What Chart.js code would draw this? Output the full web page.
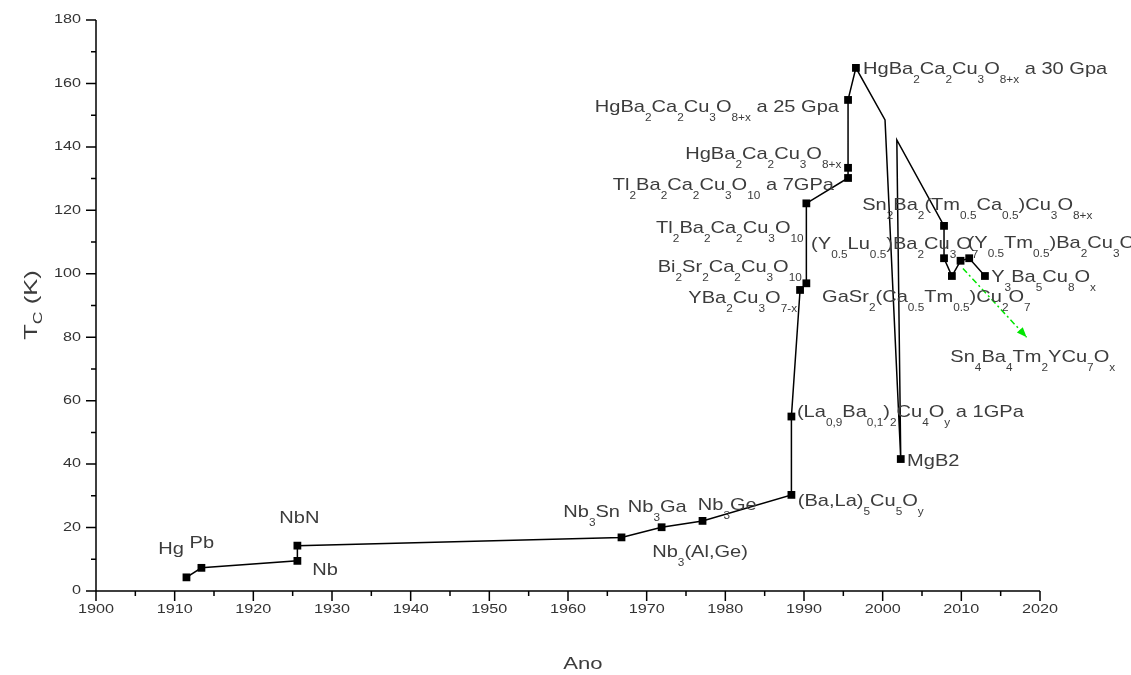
<!DOCTYPE html>
<html>
<head>
<meta charset="utf-8">
<script src="https://cdn.jsdelivr.net/npm/chart.js@4.4.1/dist/chart.umd.min.js"></script>
<style>
    html, body { margin: 0; padding: 0; background: #fff; }
    #wrap { width: 1131px; height: 675px; }
</style>
</head>
<body>
<div id="wrap"><canvas id="chart" width="1131" height="675"></canvas></div>
<script>
// main curve: year of discovery and Tc (K)
const years = [1911.5, 1913.4, 1925.6, 1925.6, 1966.8, 1971.9, 1977.1, 1988.4, 1988.4, 1989.5,
               1990.3, 1990.3, 1995.6, 1995.6, 1995.6, 1996.6, 2000.3, 2002.3, 2001.8, 2007.8,
               2007.8, 2008.8, 2009.9, 2011.0, 2013.0]
const tc = [4.3, 7.3, 9.5, 14.3, 16.9, 20.1, 22.1, 30.3, 55, 94.9,
            97, 122.2, 130.2, 133.4, 154.8, 164.9, 148.5, 41.6, 142.2, 115.1,
            104.9, 99.3, 104.1, 104.9, 99.3]
// 1 = square marker, 0 = plain bend of the line
const marked = [1, 1, 1, 1, 1, 1, 1, 1, 1, 1,
                1, 1, 1, 1, 1, 1, 0, 1, 0, 1,
                1, 1, 1, 1, 1]

// green dash-dot arrow towards Sn4Ba4Tm2YCu7Ox
const arrowYears = [2010.2, 2018.3]
const arrowTc = [101.7, 80.0]

// axis ticks
const xMajor = [1900, 1910, 1920, 1930, 1940, 1950, 1960, 1970, 1980, 1990, 2000, 2010, 2020]
const yMajor = [0, 20, 40, 60, 80, 100, 120, 140, 160, 180]

// compound labels: text (_{..} = subscript), left x in years, baseline in K
const labelText = [
    'Hg', 'Pb', 'NbN', 'Nb', 'Nb_{3}Sn', 'Nb_{3}Ga', 'Nb_{3}Ge', 'Nb_{3}(Al,Ge)',
    '(Ba,La)_{5}Cu_{5}O_{y}', '(La_{0,9}Ba_{0,1})_{2}Cu_{4}O_{y} a 1GPa', 'MgB2',
    'YBa_{2}Cu_{3}O_{7-x}', 'Bi_{2}Sr_{2}Ca_{2}Cu_{3}O_{10}', 'Tl_{2}Ba_{2}Ca_{2}Cu_{3}O_{10}',
    '(Y_{0.5}Lu_{0.5})Ba_{2}Cu_{3}O_{7}', '(Y_{0.5}Tm_{0.5})Ba_{2}Cu_{3}O_{7}',
    'Sn_{2}Ba_{2}(Tm_{0.5}Ca_{0.5})Cu_{3}O_{8+x}', 'Y_{3}Ba_{5}Cu_{8}O_{x}',
    'GaSr_{2}(Ca_{0.5}Tm_{0.5})Cu_{2}O_{7}', 'Sn_{4}Ba_{4}Tm_{2}YCu_{7}O_{x}',
    'HgBa_{2}Ca_{2}Cu_{3}O_{8+x} a 25 Gpa', 'HgBa_{2}Ca_{2}Cu_{3}O_{8+x}',
    'Tl_{2}Ba_{2}Ca_{2}Cu_{3}O_{10} a 7GPa', 'HgBa_{2}Ca_{2}Cu_{3}O_{8+x} a 30 Gpa'
]
const labelYear = [1907.9, 1911.9, 1923.3, 1927.5, 1959.4, 1967.6, 1976.5, 1970.7,
                   1989.2, 1989.1, 2003.1,
                   1975.3, 1971.4, 1971.2,
                   1990.9, 2010.8,
                   1997.4, 2013.8,
                   1992.3, 2008.6,
                   1963.4, 1974.9,
                   1965.7, 1997.5]
const labelTc = [11.7, 13.7, 21.3, 5.0, 23.4, 25.0, 25.5, 10.7,
                 26.8, 54.9, 39.4,
                 90.8, 100.6, 112.9,
                 107.8, 108.2,
                 120.1, 97.4,
                 91.1, 72.2,
                 151.0, 136.2,
                 126.4, 163.0]

const FONT = '"Liberation Sans", Arial, sans-serif'
const TEXT_GREY = '#3c3c3c'

function splitRich(str) {
    let parts = []
    let re = /_\{([^}]*)\}/g
    let last = 0
    let m
    while ((m = re.exec(str)) !== null) {
        if (m.index > last) parts.push({ t: str.slice(last, m.index), sub: false })
        parts.push({ t: m[1], sub: true })
        last = re.lastIndex
    }
    if (last < str.length) parts.push({ t: str.slice(last), sub: false })
    return parts
}

function richWidth(ctx, parts, size, subSize) {
    let w = 0
    for (let p of parts) {
        ctx.font = (p.sub ? subSize : size) + 'px ' + FONT
        w += ctx.measureText(p.t).width
    }
    return w
}

function drawRich(ctx, str, size, subSize, drop) {
    let parts = splitRich(str)
    let cx = 0
    for (let p of parts) {
        ctx.font = (p.sub ? subSize : size) + 'px ' + FONT
        ctx.fillText(p.t, cx, p.sub ? drop : 0)
        cx += ctx.measureText(p.t).width
    }
}

const decorations = {
    id: 'decorations',
    afterDraw(chart) {
        const ctx = chart.ctx
        const xs = chart.scales.x
        const ys = chart.scales.y
        const x0 = xs.getPixelForValue(1900)
        const x1 = xs.getPixelForValue(2020)
        const y0 = ys.getPixelForValue(0)
        const y1 = ys.getPixelForValue(180)

        // axes
        ctx.save()
        ctx.strokeStyle = '#000'
        ctx.lineWidth = 1.5
        ctx.beginPath()
        ctx.moveTo(x0, y1)
        ctx.lineTo(x0, y0)
        ctx.lineTo(x1, y0)
        for (let v = 1900; v <= 2020; v += 5) {
            let p = xs.getPixelForValue(v)
            ctx.moveTo(p, y0)
            ctx.lineTo(p, y0 + (v % 10 === 0 ? 10 : 5))
        }
        for (let v = 0; v <= 180; v += 10) {
            let p = ys.getPixelForValue(v)
            ctx.moveTo(x0, p)
            ctx.lineTo(x0 - (v % 20 === 0 ? 10 : 5), p)
        }
        ctx.stroke()

        // tick labels
        ctx.fillStyle = '#333'
        ctx.font = '12px ' + FONT
        ctx.textBaseline = 'middle'
        for (let v of xMajor) {
            let p = xs.getPixelForValue(v)
            ctx.save()
            ctx.translate(p, y0 + 19)
            ctx.scale(1.35, 1)
            ctx.textAlign = 'center'
            ctx.fillText(String(v), 0, 0)
            ctx.restore()
        }
        for (let v of yMajor) {
            let p = ys.getPixelForValue(v)
            ctx.save()
            ctx.translate(x0 - 15, p)
            ctx.scale(1.35, 1)
            ctx.textAlign = 'right'
            ctx.fillText(String(v), 0, 0)
            ctx.restore()
        }

        // axis titles
        ctx.fillStyle = TEXT_GREY
        ctx.textBaseline = 'alphabetic'
        ctx.textAlign = 'left'
        ctx.save()
        ctx.font = '17px ' + FONT
        let w = ctx.measureText('Ano').width * 1.3
        ctx.translate((x0 + x1) / 2 - w / 2 + 15, 669)
        ctx.scale(1.3, 1)
        ctx.fillText('Ano', 0, 0)
        ctx.restore()

        ctx.save()
        let tparts = splitRich('T_{C} (K)')
        let tw = richWidth(ctx, tparts, 19, 13) * 1.35
        ctx.translate(37, 305 + tw / 2)
        ctx.rotate(-Math.PI / 2)
        ctx.scale(1.35, 1)
        drawRich(ctx, 'T_{C} (K)', 19, 13, 5)
        ctx.restore()

        // compound labels
        for (let i = 0; i < labelText.length; i++) {
            ctx.save()
            ctx.translate(xs.getPixelForValue(labelYear[i]), ys.getPixelForValue(labelTc[i]))
            ctx.scale(1.18, 1)
            drawRich(ctx, labelText[i], 17, 10, 9)
            ctx.restore()
        }

        // arrow head on the green line
        let ax = xs.getPixelForValue(arrowYears[1])
        let ay = ys.getPixelForValue(arrowTc[1])
        let bx = xs.getPixelForValue(arrowYears[0])
        let by = ys.getPixelForValue(arrowTc[0])
        let ang = Math.atan2(ay - by, ax - bx)
        ctx.fillStyle = '#00e600'
        ctx.beginPath()
        ctx.moveTo(ax, ay)
        ctx.lineTo(ax - 10 * Math.cos(ang) + 4 * Math.sin(ang), ay - 10 * Math.sin(ang) - 4 * Math.cos(ang))
        ctx.lineTo(ax - 10 * Math.cos(ang) - 4 * Math.sin(ang), ay - 10 * Math.sin(ang) + 4 * Math.cos(ang))
        ctx.closePath()
        ctx.fill()
        ctx.restore()
    }
}

let mainPoints = []
for (let i = 0; i < years.length; i++) mainPoints.push({ x: years[i], y: tc[i] })
let arrowPoints = []
for (let i = 0; i < arrowYears.length; i++) arrowPoints.push({ x: arrowYears[i], y: arrowTc[i] })

new Chart(document.getElementById('chart').getContext('2d'), {
    type: 'line',
    data: {
        datasets: [{
            label: 'Tc',
            data: mainPoints,
            borderColor: '#000',
            borderWidth: 1.5,
            backgroundColor: '#000',
            pointStyle: 'rect',
            pointRadius: marked.map(m => m ? 5.5 : 0),
            pointBackgroundColor: '#000',
            pointBorderColor: '#000',
            pointBorderWidth: 0,
            tension: 0
        }, {
            label: 'arrow',
            data: arrowPoints,
            borderColor: '#00e600',
            borderWidth: 1.5,
            borderDash: [6, 3, 2, 3],
            pointRadius: 0,
            tension: 0
        }]
    },
    options: {
        responsive: false,
        animation: false,
        layout: { padding: { left: 96, right: 91, top: 20, bottom: 84 } },
        plugins: { legend: { display: false }, tooltip: { enabled: false } },
        scales: {
            x: { type: 'linear', min: 1900, max: 2020, display: false },
            y: { type: 'linear', min: 0, max: 180, display: false }
        }
    },
    plugins: [decorations]
})
</script>
</body>
</html>
